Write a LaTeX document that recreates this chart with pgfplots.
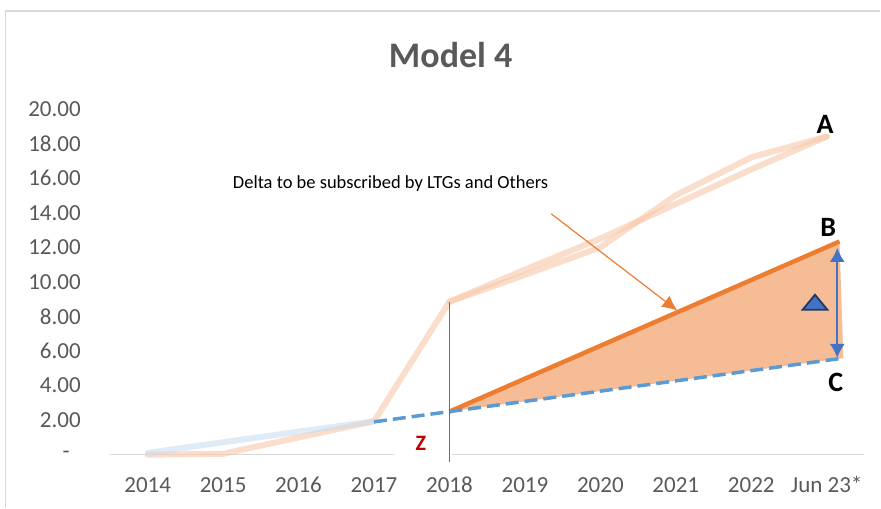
\documentclass[border=0pt]{standalone}
\usepackage{pgfplots}
\pgfplotsset{compat=1.18}
\usepackage{fontspec}
\setmainfont{Carlito}
\usetikzlibrary{arrows.meta}
\definecolor{bordergray}{HTML}{D9D9D9}
\definecolor{titlegray}{HTML}{595959}
\definecolor{tickgray}{HTML}{595959}
\definecolor{lightorange}{HTML}{F8CBAD}
\definecolor{lightblue}{HTML}{C9DDF0}
\definecolor{mainorange}{HTML}{ED7D31}
\definecolor{fillorange}{HTML}{F5BC96}
\definecolor{dashblue}{HTML}{5B9BD5}
\definecolor{annblue}{HTML}{4472C4}
\definecolor{navy}{HTML}{203864}
\definecolor{zred}{HTML}{C00000}
\begin{document}
\begin{tikzpicture}
\path (0,0) rectangle (881bp,508bp);
\draw[color=bordergray, line width=1.2bp] (5.5bp,0) -- (5.5bp,497bp) -- (881bp,497bp);
\node[font=\fontsize{36bp}{40bp}\selectfont\bfseries, text=titlegray, inner sep=0pt] at (451bp,453bp) {Model 4};
\begin{axis}[
  at={(110bp,53bp)}, anchor=south west, scale only axis,
  width=755bp, height=346bp,
  xmin=-0.5, xmax=9.5, ymin=0, ymax=20, clip=false,
  axis line style={draw=none}, major tick length=0pt,
  xtick={0,1,2,3,4,5,6,7,8,9},
  xticklabels={2014,2015,2016,2017,2018,2019,2020,2021,2022,Jun 23*},
  ytick={0,2,4,6,8,10,12,14,16,18,20},
  yticklabels={{-\hspace*{11bp}},2.00,4.00,6.00,8.00,10.00,12.00,14.00,16.00,18.00,20.00},
  tick label style={font=\fontsize{23bp}{26bp}\selectfont, text=tickgray},
  xticklabel style={anchor=base, inner sep=0pt, yshift=-38bp},
  yticklabel style={anchor=east, inner sep=0pt, xshift=-29bp},
]
% x axis line
\addplot[color=bordergray, line width=1.5bp] coordinates {(-0.5,0) (9.5,0)};
% light lines
\addplot[color=lightorange, opacity=0.65, line width=6bp, line cap=round, line join=round]
  coordinates {(0,0) (1,0.05) (2,1.0) (3,1.93) (4,8.85) (5,10.4) (6,12.0) (7,15.0) (8,17.2) (9,18.4)};
\addplot[color=lightorange, opacity=0.65, line width=6bp, line cap=round, line join=round]
  coordinates {(4,8.85) (5,10.7) (6,12.5) (7,14.5) (8,16.5) (9,18.4)};
\addplot[color=lightblue, opacity=0.6, line width=6bp, line cap=round]
  coordinates {(0,0.1) (1,0.72) (2,1.33) (3,1.93)};
% delta area
\addplot[fill=fillorange, draw=none] coordinates {(4,2.49) (9.17,12.33) (9.22,5.59)} -- cycle;
% B line
\addplot[color=mainorange, line width=4.5bp] coordinates {(4,2.49) (9.17,12.33)};
% C dashed
\addplot[color=dashblue, line width=3.5bp, dash pattern=on 13bp off 6bp] coordinates {(3,1.9) (9.23,5.59)};
% Z box
\addplot[fill=white, draw=none] coordinates {(3.26,-0.15) (4.04,-0.15) (4.04,1.45) (3.26,1.45)} -- cycle;
\node[text=zred, font=\fontsize{22bp}{25bp}\selectfont\bfseries] at (axis cs:3.62,0.64) {Z};
% vertical line at 2018
\addplot[color=annblue, line width=1.1bp] coordinates {(4,8.85) (4,-0.4)};
% double arrow
\addplot[color=annblue, line width=1.6bp, {Latex[width=15bp,length=14bp]}-{Latex[width=15bp,length=14bp]}]
  coordinates {(9.14,11.96) (9.14,5.6)};
% triangle symbol
\addplot[fill=annblue, draw=navy, line width=1.8bp, line join=miter]
  coordinates {(8.68,8.38) (9.01,8.38) (8.845,9.25)} -- cycle;
% annotation arrow
\addplot[color=mainorange, line width=1.2bp, -{Latex[width=14bp,length=15bp]}]
  coordinates {(5.35,13.93) (7.02,8.34)};
\node[font=\fontsize{18.5bp}{21bp}\selectfont, text=black] at (axis cs:3.22,15.66) {Delta to be subscribed by LTGs and Others};
% labels
\node[font=\fontsize{28bp}{32bp}\selectfont\bfseries] at (axis cs:8.98,19.08) {A};
\node[font=\fontsize{28bp}{32bp}\selectfont\bfseries] at (axis cs:9.02,13.12) {B};
\node[font=\fontsize{28bp}{32bp}\selectfont\bfseries] at (axis cs:9.12,4.16) {C};
\end{axis}
\end{tikzpicture}
\end{document}
